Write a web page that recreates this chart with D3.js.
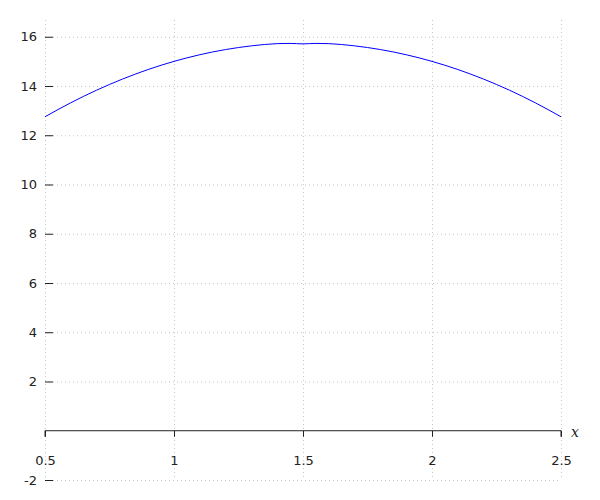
<!DOCTYPE html>
<html><head><meta charset="utf-8">
<script src="https://cdn.jsdelivr.net/npm/d3@7"></script>
<style>body{margin:0;background:#fff}</style>
</head><body>
<svg id="c" width="600" height="500"></svg>
<script>
const xTicks = [0.5, 1, 1.5, 2, 2.5];
const xTickLabels = ["0.5", "1", "1.5", "2", "2.5"];
const yTicks = [-2, 2, 4, 6, 8, 10, 12, 14, 16];
const yTickLabels = ["-2", "2", "4", "6", "8", "10", "12", "14", "16"];
const curveX = [0.5, 0.6, 0.7, 0.8, 0.9, 1.0, 1.1, 1.2, 1.3, 1.4, 1.45, 1.5, 1.55, 1.6, 1.7, 1.8, 1.9, 2.0, 2.1, 2.2, 2.3, 2.4, 2.5];
const curveY = [12.75, 13.32, 13.83, 14.28, 14.67, 15.0, 15.27, 15.48, 15.63, 15.72, 15.73, 15.71, 15.73, 15.72, 15.63, 15.48, 15.27, 15.0, 14.67, 14.28, 13.83, 13.32, 12.75];

const svg = d3.select("#c");
const x = d3.scaleLinear().domain([0.5, 2.5]).range([45, 561]);
const y = d3.scaleLinear().domain([-2, 16.68]).range([480, 20]);
const font = "DejaVu Sans, sans-serif";

// grid
const g = svg.append("g");
g.selectAll(".vg").data(xTicks).join("line")
  .attr("x1", d => x(d)).attr("x2", d => x(d))
  .attr("y1", y.range()[1]).attr("y2", y.range()[0])
  .attr("stroke", "#c8c8c8").attr("stroke-width", 1).attr("stroke-dasharray", "1,3")
  .attr("transform", "translate(0.5,0)");
g.selectAll(".hg").data(yTicks).join("line")
  .attr("x1", x.range()[0]).attr("x2", x.range()[1])
  .attr("y1", d => y(d)).attr("y2", d => y(d))
  .attr("stroke", "#c8c8c8").attr("stroke-width", 1).attr("stroke-dasharray", "1,3")
  .attr("transform", "translate(0,0.5)");

// x axis at y=0
const xAxis = d3.axisBottom(x).tickValues(xTicks).tickFormat((d, i) => xTickLabels[i]).tickSize(6).tickPadding(19);
const xa = svg.append("g").attr("transform", `translate(0,${y(0)})`).call(xAxis);
xa.select(".domain").attr("stroke", "#222").attr("d", `M${x.range()[0]},6V0H${x.range()[1]}V6`);
xa.selectAll(".tick line").attr("stroke", "#222");
xa.selectAll("text").attr("font-family", font).attr("font-size", 13).attr("fill", "#222");

// y axis ticks (no domain line)
const yAxis = d3.axisRight(y).tickValues(yTicks).tickFormat((d, i) => yTickLabels[i]).tickSize(8).tickPadding(0);
const ya = svg.append("g").attr("transform", `translate(${x.range()[0]},0)`).call(yAxis);
ya.select(".domain").remove();
ya.selectAll(".tick line").attr("stroke", "#222");
ya.selectAll("text").attr("font-family", font).attr("font-size", 13).attr("fill", "#222")
  .attr("text-anchor", "end").attr("x", -8);

// x label
svg.append("text").attr("x", 571).attr("y", 437).text("x")
  .attr("font-family", "DejaVu Serif, serif").attr("font-style", "italic").attr("font-size", 14).attr("fill", "#222");

// curve
const pts = curveX.map((d, i) => [d, curveY[i]]);
svg.append("path").datum(pts)
  .attr("d", d3.line().x(d => x(d[0])).y(d => y(d[1])).curve(d3.curveMonotoneX))
  .attr("fill", "none").attr("stroke", "#0000ff").attr("stroke-width", 1);
</script>
</body></html>
